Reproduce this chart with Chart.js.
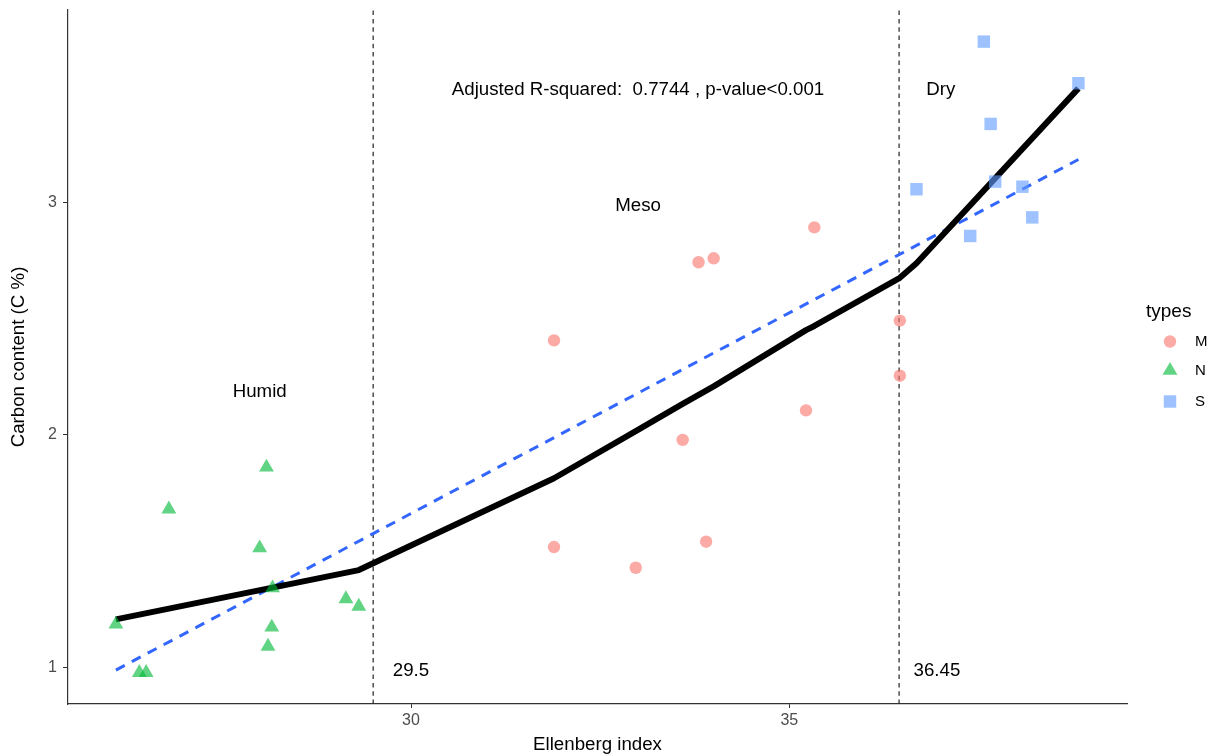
<!DOCTYPE html>
<html>
<head>
<meta charset="utf-8">
<script src="https://cdn.jsdelivr.net/npm/chart.js@4.4.1/dist/chart.umd.min.js"></script>
<style>
html,body{margin:0;padding:0;background:#fff;}
#wrap{width:1214px;height:756px;position:relative;}
</style>
</head>
<body>
<div id="wrap"><canvas id="c" width="1214" height="756"></canvas></div>
<script>
// ---- data ----
const xTicks = [30, 35];
const yTicks = [1, 2, 3];
const typeNames = ['M', 'N', 'S'];

const mX = [31.89, 31.89, 32.97, 33.59, 33.80, 33.90, 34.00, 35.22, 35.33, 36.46, 36.46];
const mY = [2.406, 1.517, 1.428, 1.978, 2.742, 1.540, 2.759, 2.105, 2.892, 2.491, 2.254];

const nX = [26.10, 26.41, 26.50, 26.80, 28.00, 28.09, 28.11, 28.16, 28.17, 29.14, 29.31];
const nY = [1.185, 0.977, 0.977, 1.680, 1.513, 1.860, 1.090, 1.172, 1.341, 1.294, 1.262];

const sX = [36.68, 37.39, 37.57, 37.66, 37.72, 38.08, 38.21, 38.82];
const sY = [3.056, 2.855, 3.691, 3.337, 3.089, 3.067, 2.935, 3.512];

// segmented fit (solid black)
const fitX = [26.10, 29.31, 31.89, 32.97, 33.59, 34.00, 35.22, 35.33, 36.46, 36.68, 38.82];
const fitY = [1.206, 1.418, 1.813, 2.016, 2.133, 2.208, 2.450, 2.468, 2.675, 2.738, 3.490];

// linear fit (dashed blue)
const lmX = [26.10, 38.82];
const lmY = [0.988, 3.184];

// breakpoints
const breaks = [29.5, 36.45];

// ---- helpers ----
const FONT = '"Liberation Sans", Arial, Helvetica, sans-serif';
Chart.defaults.font.family = FONT;
const pts = (xs, ys) => xs.map((x, i) => ({x: x, y: ys[i]}));
const X_MIN = 25.467, X_MAX = 39.462, Y_MIN = 0.842, Y_MAX = 3.827;

const colM = 'rgba(248,118,109,0.62)';
const colN = 'rgba(0,186,56,0.62)';
const colS = 'rgba(97,156,255,0.62)';

const notes = [
  {x: 33, y: 3.5, text: 'Adjusted R-squared:  0.7744 , p-value<0.001'},
  {x: 37, y: 3.5, text: 'Dry'},
  {x: 33, y: 3.0, text: 'Meso'},
  {x: 28, y: 2.2, text: 'Humid'},
  {x: 30, y: 1.0, text: '29.5'},
  {x: 36.95, y: 1.0, text: '36.45'}
];

const datasets = [
  {label: 'M', data: pts(mX, mY), pointStyle: 'circle', pointRadius: 6.2, backgroundColor: colM, pointBorderWidth: 0, borderColor: 'rgba(0,0,0,0)', showLine: false},
  {label: 'N', data: pts(nX, nY), pointStyle: 'triangle', pointRadius: 8.6, backgroundColor: colN, pointBorderWidth: 0, borderColor: 'rgba(0,0,0,0)', showLine: false},
  {label: 'S', data: pts(sX, sY), pointStyle: 'rect', pointRadius: 8.8, backgroundColor: colS, pointBorderWidth: 0, borderColor: 'rgba(0,0,0,0)', showLine: false},
  {label: 'fit', data: pts(fitX, fitY), showLine: true, borderColor: '#000', borderWidth: 6, pointRadius: 0, borderCapStyle: 'butt', borderJoinStyle: 'round', tension: 0},
  {label: 'lm', data: pts(lmX, lmY), showLine: true, borderColor: '#3366FF', borderWidth: 3, borderDash: [10, 8], pointRadius: 0, tension: 0},
  {label: 'b1', data: [{x: breaks[0], y: Y_MIN}, {x: breaks[0], y: Y_MAX}], showLine: true, borderColor: '#222', borderWidth: 1.2, borderDash: [4.5, 3.8], pointRadius: 0},
  {label: 'b2', data: [{x: breaks[1], y: Y_MIN}, {x: breaks[1], y: Y_MAX}], showLine: true, borderColor: '#222', borderWidth: 1.2, borderDash: [4.5, 3.8], pointRadius: 0}
];

const notesPlugin = {
  id: 'notes',
  afterDatasetsDraw(chart) {
    const ctx = chart.ctx, xs = chart.scales.x, ys = chart.scales.y;
    ctx.save();
    ctx.fillStyle = '#000';
    ctx.font = '18.7px ' + FONT;
    ctx.textAlign = 'center';
    ctx.textBaseline = 'middle';
    notes.forEach(n => ctx.fillText(n.text, xs.getPixelForValue(n.x), ys.getPixelForValue(n.y) + 4));
    ctx.restore();
  }
};

const legendPlugin = {
  id: 'ggLegend',
  afterDraw(chart) {
    const ctx = chart.ctx;
    ctx.save();
    ctx.fillStyle = '#000';
    ctx.font = '19px ' + FONT;
    ctx.textAlign = 'left';
    ctx.textBaseline = 'middle';
    ctx.fillText('types', 1146, 312);
    const ys = [341.5, 370.5, 401.5];
    typeNames.forEach((name, i) => {
      const ds = chart.data.datasets[i];
      ctx.fillStyle = ds.backgroundColor;
      Chart.helpers.drawPoint(ctx, {pointStyle: ds.pointStyle, radius: ds.pointRadius, rotation: 0, borderWidth: 0}, 1170, ys[i]);
      ctx.fillStyle = '#000';
      ctx.font = '15px ' + FONT;
      ctx.fillText(name, 1195, ys[i]);
    });
    ctx.restore();
  }
};

new Chart(document.getElementById('c'), {
  type: 'scatter',
  data: {datasets: datasets},
  options: {
    responsive: false,
    animation: false,
    events: [],
    layout: {padding: {left: 0, top: 10, right: 87, bottom: 0}},
    plugins: {legend: {display: false}, tooltip: {enabled: false}},
    scales: {
      x: {
        type: 'linear', min: X_MIN, max: X_MAX,
        afterBuildTicks: s => { s.ticks = xTicks.map(v => ({value: v})); },
        afterFit: s => { s.height = 52; s.paddingLeft = 0; s.paddingRight = 0; },
        grid: {display: true, drawOnChartArea: false, drawTicks: true, tickLength: 4, color: '#333', lineWidth: 1},
        border: {display: true, color: '#333', width: 1.2},
        ticks: {color: '#4d4d4d', font: {size: 16}, padding: 3, maxRotation: 0, autoSkip: false},
        title: {display: true, text: 'Ellenberg index', color: '#000', font: {size: 18.7}, padding: {top: 0, bottom: 0}}
      },
      y: {
        type: 'linear', min: Y_MIN, max: Y_MAX,
        afterBuildTicks: s => { s.ticks = yTicks.map(v => ({value: v})); },
        afterFit: s => { s.width = 68; s.paddingTop = 0; s.paddingBottom = 0; },
        grid: {display: true, drawOnChartArea: false, drawTicks: true, tickLength: 5, color: '#333', lineWidth: 1},
        border: {display: true, color: '#333', width: 1.2},
        ticks: {color: '#4d4d4d', font: {size: 16}, padding: 6, autoSkip: false},
        title: {display: true, text: 'Carbon content (C %)', color: '#000', font: {size: 18.7}, padding: {top: 8, bottom: 0}}
      }
    }
  },
  plugins: [notesPlugin, legendPlugin]
});
</script>
</body>
</html>
